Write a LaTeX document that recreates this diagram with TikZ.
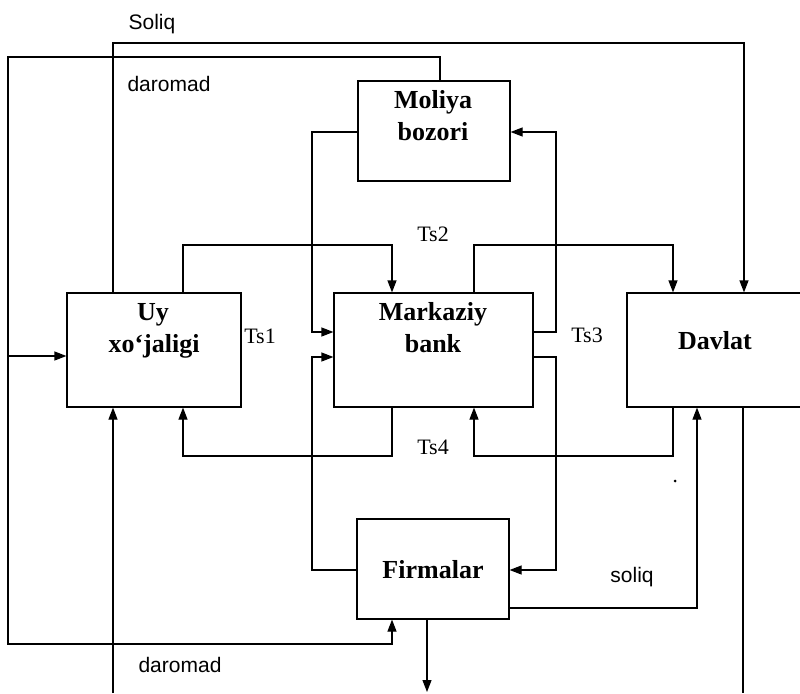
\documentclass[tikz,border=0pt]{standalone}
\usepackage{fontspec}
\setmainfont{Liberation Serif}
\newfontfamily\lsans{Liberation Sans}
\usetikzlibrary{arrows.meta}
\begin{document}
\begin{tikzpicture}[x=1pt,y=-1pt,
  line width=1.2pt,
  arr/.style={-{Triangle[length=12pt,width=9pt]}},
  box/.style={draw,rectangle,inner sep=0pt},
  boxtext/.style={anchor=base,inner sep=0pt,font=\fontsize{26}{32}\selectfont\bfseries},
  lab/.style={anchor=base,inner sep=0pt,font=\lsans\fontsize{21}{25}\selectfont},
  tslab/.style={anchor=base,inner sep=0pt,font=\fontsize{22}{26}\selectfont}]
\useasboundingbox (0,0) rectangle (800,693);
% boxes
\node[box,minimum width=174pt,minimum height=114pt] (uy) at (154,350) {};
\node[box,minimum width=199pt,minimum height=114pt] (mb) at (433.5,350) {};
\node[box,minimum width=176pt,minimum height=114pt] (dv) at (715,350) {};
\node[box,minimum width=152pt,minimum height=100pt] (mo) at (434,131) {};
\node[box,minimum width=152pt,minimum height=100pt] (fi) at (433,569) {};
% box texts
\node[boxtext] (uyA) at (153,320) {Uy};
\node[boxtext] (uyB) at (154,352) {xo‘jaligi};
\node[boxtext] (mbA) at (433,320) {Markaziy};
\node[boxtext] (mbB) at (433,352) {bank};
\node[boxtext] (dvA) at (715,349) {Davlat};
\node[boxtext] (moA) at (433,108) {Moliya};
\node[boxtext] (moB) at (433,140) {bozori};
\node[boxtext] (fiA) at (433,578) {Firmalar};
% labels
\node[lab] (l1) at (152,30) {Soliq};
\node[lab] (l2) at (169,92) {daromad};
\node[lab] (l3) at (180,672) {daromad};
\node[lab] (l4) at (632,582) {soliq};
\node[tslab] (t1) at (260,343) {Ts1};
\node[tslab] (t2) at (433,241) {Ts2};
\node[tslab] (t3) at (587,342) {Ts3};
\node[tslab] (t4) at (433,454) {Ts4};
% connectors
\draw[arr] (113,0 |- uy.north) -- (113,43) -| (744,0 |- dv.north);
\draw[arr] (440,0 |- mo.north) -- (440,57) -| (8,644) -| (392,0 |- fi.south);
\draw[arr] (8,356) -- (uy.west |- 0,356);
\draw[arr] (113,693) -- (113,0 |- uy.south);
\draw (743,0 |- dv.south) -- (743,693);
\draw[arr] (427,0 |- fi.south) -- (427,692);
\draw[arr] (183,0 |- uy.north) |- (392,245) -- (392,0 |- mb.north);
\draw[arr] (474,0 |- mb.north) |- (673,245) -- (673,0 |- dv.north);
\draw[arr] (mo.west |- 0,132) -| (312,332) -- (mb.west |- 0,332);
\draw[arr] (fi.west |- 0,570) -| (312,357) -- (mb.west |- 0,357);
\draw[arr] (mb.east |- 0,332) -| (556,132) -- (mo.east |- 0,132);
\draw[arr] (mb.east |- 0,357) -| (556,570) -- (fi.east |- 0,570);
\draw[arr] (392,0 |- mb.south) |- (183,456) -- (183,0 |- uy.south);
\draw[arr] (673,0 |- dv.south) |- (474,456) -- (474,0 |- mb.south);
\draw[arr] (fi.east |- 0,608) -| (697,0 |- dv.south);
\fill (675,481) circle (1.5pt);
\end{tikzpicture}
\end{document}
